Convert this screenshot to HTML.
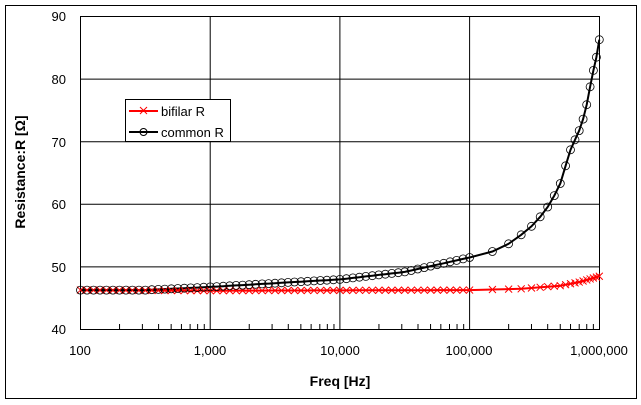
<!DOCTYPE html>
<html><head><meta charset="utf-8"><style>
html,body{margin:0;padding:0;background:#fff}
svg{display:block;font-family:"Liberation Sans","DejaVu Sans",sans-serif}
</style></head><body>
<svg id="s" width="641" height="405" xmlns="http://www.w3.org/2000/svg">
<rect x="5.5" y="5.5" width="631" height="393" fill="#fff" stroke="#000" stroke-width="1"/>
<g id="grid" stroke="#000" stroke-width="1"></g>
<g font-size="13" fill="#000">
<text x="66" y="21" text-anchor="end">90</text>
<text x="66" y="84" text-anchor="end">80</text>
<text x="66" y="147" text-anchor="end">70</text>
<text x="66" y="209" text-anchor="end">60</text>
<text x="66" y="272" text-anchor="end">50</text>
<text x="66" y="334" text-anchor="end">40</text>
<text x="80" y="355" text-anchor="middle">100</text>
<text x="210" y="355" text-anchor="middle">1,000</text>
<text x="340" y="355" text-anchor="middle">10,000</text>
<text x="469" y="355" text-anchor="middle">100,000</text>
<text x="599" y="355" text-anchor="middle">1,000,000</text>
<text x="340" y="386" text-anchor="middle" font-size="14" font-weight="bold">Freq [Hz]</text>
<text transform="translate(25,172) rotate(-90)" text-anchor="middle" font-size="14" font-weight="bold">Resistance:R [Ω]</text>
</g>
<g id="data"></g>
<rect x="125.5" y="99.5" width="105" height="42" fill="#fff" stroke="#000"/>
<line x1="129" y1="111" x2="158" y2="111" stroke="#f00" stroke-width="2"/>
<path d="M140,107l7,7M147,107l-7,7" stroke="#f00"/>
<text x="161" y="116" font-size="13">bifilar R</text>
<line x1="129" y1="132" x2="158" y2="132" stroke="#000" stroke-width="2"/>
<circle cx="143.5" cy="132" r="3.5" fill="none" stroke="#000"/>
<text x="161" y="137" font-size="13">common R</text>
</svg>
<script>
var L=80.5,B=329.5,D=129.7,T=16.5;
function X(f){return L+(Math.log10(f)-2)*D}
function Y(r){return B-(r-40)*(B-T)/50}
var g=document.getElementById('grid'),h='';
h+='<rect x="80.5" y="16.5" width="519" height="313" fill="none"/>';
[50,60,70,80].forEach(function(r){h+='<line x1="80.5" x2="599.5" y1="'+Y(r)+'" y2="'+Y(r)+'"/>';});
for(var d=2;d<6;d++){var x=L+(d-2)*D;if(d>2)h+='<line x1="'+x+'" x2="'+x+'" y1="16.5" y2="329.5"/>';
for(var k=2;k<10;k++){var xx=L+(d-2+Math.log10(k))*D;h+='<line x1="'+xx+'" x2="'+xx+'" y1="324" y2="329.5"/>';}}
g.innerHTML=h;
function interp(p,l){for(var i=1;i<p.length;i++){if(l<=p[i][0]){var a=p[i-1],b=p[i];return a[1]+(b[1]-a[1])*(l-a[0])/(b[0]-a[0]);}}return p[p.length-1][1];}
var C=[[2,46.3],[2.5,46.3],[3,46.8],[3.5,47.4],[4,48],[4.5,49.2],[5,51.5],[5.24,52.8],[5.39,55],[5.507,57],[5.6,59.5],[5.69,62.7],[5.776,68.6],[5.85,72],[5.892,74.7],[5.95,81],[5.98,83.7],[6,86.3]];
var Bf=[[2,46.3],[3,46.2],[5,46.3],[5.4,46.5],[5.7,47],[5.85,47.6],[6,48.5]];
var fs=[];for(var i=0;i<=60;i++)fs.push(Math.pow(10,2+i*3/60));
for(var f=150000;f<=1000000;f+=50000)fs.push(f);
fs.sort(function(a,b){return a-b});
var o='',pc='',pb='';
fs.forEach(function(f,i){var l=Math.log10(f),x=X(f),yc=Y(interp(C,l)),yb=Y(interp(Bf,l));
pc+=(i?'L':'M')+x.toFixed(1)+','+yc.toFixed(1);pb+=(i?'L':'M')+x.toFixed(1)+','+yb.toFixed(1);
o+='<path d="M'+(x-3.5)+','+(yb-3.5)+'l7,7M'+(x+3.5)+','+(yb-3.5)+'l-7,7" stroke="#f00" fill="none"/>';
o+='<circle cx="'+x.toFixed(1)+'" cy="'+yc.toFixed(1)+'" r="4" fill="none" stroke="#000" stroke-width="0.8"/>';});
document.getElementById('data').innerHTML='<path d="'+pb+'" stroke="#f00" stroke-width="2" fill="none"/><path d="'+pc+'" stroke="#000" stroke-width="2" fill="none"/>'+o;
</script>
</body></html>
